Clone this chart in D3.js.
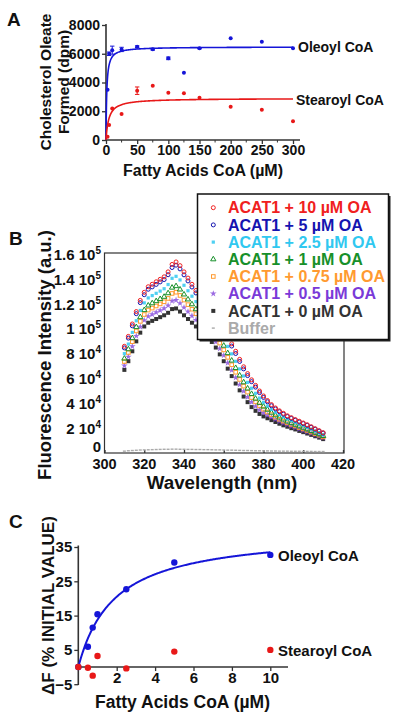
<!DOCTYPE html>
<html><head><meta charset="utf-8">
<script src="https://cdn.jsdelivr.net/npm/d3@7"></script>
<style>
body{margin:0;background:#fff}
svg{display:block}
text{font-family:"Liberation Sans",Arial,Helvetica,sans-serif;font-weight:bold;fill:#111}
</style>
</head><body>
<svg id="c" width="400" height="719"></svg>
<script>
// ---------------- Panel A data ----------------
const aConc = [2.5, 5, 10, 25, 50, 75, 100, 125, 150, 200, 250, 300];
const aOleoyl = [3500, 6000, 6250, 6300, 6490, 6310, 5680, 4680, 6380, 7075, 6840, 6380];
const aOleoylErr = [0, 120, 280, 150, 60, 60, 90, 0, 40, 0, 0, 0];
const aStearoyl = [230, 1040, 2200, 1810, 3430, 3780, 3290, 3250, 2940, 2320, 2110, 1300];
const aStearoylErr = [0, 0, 0, 0, 260, 0, 0, 0, 0, 0, 0, 0];
const aOleoylFit = [6480, 1.2];     // Vmax, Km (Michaelis-Menten fit)
const aStearoylFit = [2900, 4.5];
const aYTicks = [0, 2000, 4000, 6000, 8000];
const aXTicks = [0, 50, 100, 150, 200, 250, 300];

// ---------------- Panel B data (x1000 a.u.) ----------------
const bWavelength = [310,312,314,316,318,320,322,324,326,328,330,332,334,336,338,340,342,344,346,348,350,352,354,356,358,360,362,364,366,368,370,372,374,376,378,380,382,384,386,388,390,392,394,396,398,400,402,404,406,408,410];
const bOA10 = [86,94,104,114,123,129.5,134,136,138,140,142,146,152,154,151,146,141,136,131,127,123,119,115,110.5,105.5,100,94,88,82,75.5,69.5,64,59,54.5,50,46,42.3,39,36.3,34,32,30,28.5,27,25.6,24.2,22.8,21.2,19.6,18,16.4];
const bOA5 = [84.7,92.6,102.5,112.3,121.2,127.6,132,133.9,135.9,137.9,139.8,143.7,149.5,151.4,148.4,143.6,138.7,133.8,129,125,121.1,117.2,113.2,108.7,103.7,98.2,92.2,86.2,80.2,73.8,67.8,62.4,57.5,53.1,48.7,44.8,41.3,38.1,35.5,33.3,31.3,29.4,27.9,26.4,25,23.7,22.3,20.7,19.2,17.6,16];
const bOA2_5 = [80.1,87.8,97.2,106.6,114.9,121,125,126.9,128.7,130.5,132.4,135.8,140.8,142.4,139.5,135.2,130.8,126.4,122,118.3,114.6,110.9,107.1,102.6,97.4,91.9,85.9,79.9,73.9,67.8,62.1,56.9,52.2,48.1,44.3,40.9,37.9,35.1,32.8,30.8,29,27.3,25.9,24.5,23.2,21.9,20.6,19.2,17.7,16.3,14.8];
const bOA1 = [76.1,83.6,92.6,101.5,109.5,115.2,118.9,120.7,122.4,124.1,125.9,128.8,133.3,134.5,131.8,127.8,123.8,119.9,115.9,112.4,109,105.5,101.7,97.2,92,86.5,80.5,74.5,68.5,62.5,57,52,47.6,43.8,40.4,37.4,34.9,32.5,30.4,28.6,27,25.4,24.1,22.8,21.5,20.4,19.1,17.8,16.4,15.1,13.7];
const bOA0_75 = [73.7,81,89.7,98.4,106.1,111.6,115.2,116.8,118.5,120.2,121.9,124.6,128.6,129.6,127,123.3,119.6,115.9,112.2,108.8,105.5,102.1,98.4,93.9,88.6,83.1,77.1,71.1,65.1,59.3,53.9,49.1,44.7,41.2,38,35.3,33,30.9,29,27.2,25.7,24.3,23,21.8,20.5,19.4,18.2,16.9,15.6,14.4,13];
const bOA0_5 = [70.4,77.6,86,94.3,101.7,107,110.2,111.8,113.4,115,116.6,118.9,122.5,123.3,120.7,117.3,113.9,110.6,107.2,104,100.9,97.7,94.1,89.6,84.2,78.7,72.7,66.7,60.7,55,49.8,45.1,41,37.7,34.8,32.5,30.6,28.8,27,25.5,24,22.8,21.5,20.4,19.2,18.1,17,15.8,14.6,13.4,12.1];
const bOA0 = [67,74,82,90,97,102,105,106.5,108,109.5,111,113,116,116.5,114,111,108,105,102,99,96,93,89.5,85,79.5,74,68,62,56,50.5,45.5,41,37,34,31.5,29.5,28,26.5,25,23.6,22.3,21.2,20,19,17.8,16.8,15.7,14.6,13.5,12.4,11.2];
const bBuffer = [1.5,1.8,2,2.2,2.4,2.5,2.6,2.7,2.8,2.9,3,3,3.1,3.1,3,3,2.9,2.9,2.8,2.8,2.7,2.7,2.6,2.5,2.5,2.4,2.3,2.3,2.2,2.1,2,2,1.9,1.8,1.8,1.7,1.7,1.6,1.6,1.5,1.5,1.5,1.4,1.4,1.4,1.3,1.3,1.3,1.2,1.2,1.2];
const bLegend = ["ACAT1 + 10 \u00b5M OA","ACAT1 + 5 \u00b5M OA","ACAT1 + 2.5 \u00b5M OA","ACAT1 + 1 \u00b5M OA","ACAT1 + 0.75 \u00b5M OA","ACAT1 + 0.5 \u00b5M OA","ACAT1 + 0 \u00b5M OA","Buffer"];
const bYTicks = [0, 20, 40, 60, 80, 100, 120, 140, 160];
const bYTickMant = ["0","2 10","4 10","6 10","8 10","1 10","1.2 10","1.4 10","1.6 10"];
const bYTickExp = ["","4","4","4","4","5","5","5","5"];
const bXTicks = [300, 320, 340, 360, 380, 400, 420];

// ---------------- Panel C data ----------------
const cConc = [0, 0.5, 0.75, 1, 2.5, 5, 10];
const cOleoyl = [0, 5.9, 11.5, 15.4, 22.7, 30.5, 32.7];
const cStearoyl = [0, -0.2, -2.5, 3.2, -0.4, 4.5, 5];
const cOleoylFit = [39.8, 1.885];
const cYTicks = [-5, 5, 15, 25, 35];
const cXTicks = [2, 4, 6, 8, 10];

// ---------------- drawing ----------------
const svg = d3.select("#c");
svg.append("rect").attr("width", 400).attr("height", 719).attr("fill", "#fff");
const AX = "#333";
const BLUE = "#1515d8", RED = "#e81818";

function label(g, x, y, s, size, anchor = "start", rot = false) {
  const t = g.append("text").attr("font-size", size).attr("text-anchor", anchor);
  if (rot) t.attr("transform", `translate(${x},${y}) rotate(-90)`).attr("dy", "0.35em");
  else t.attr("x", x).attr("y", y);
  t.text(s);
  return t;
}
function styleAxis(sel, fs) {
  sel.select(".domain").remove();
  sel.selectAll(".tick line").attr("stroke", AX).attr("stroke-width", 1.3);
  sel.selectAll(".tick text").attr("font-size", fs).attr("fill", "#111")
     .style("font-family", '"Liberation Sans",Arial,sans-serif').style("font-weight", "bold");
}
function mm(p, x) { return p[0] * x / (p[1] + x); }

// ===== Panel A =====
const gA = svg.append("g");
const xA = d3.scaleLinear().domain([0, 300]).range([106, 293]);
const yA = d3.scaleLinear().domain([0, 8000]).range([140, 25]);
gA.append("g").attr("transform", "translate(106,0)")
  .call(d3.axisLeft(yA).tickValues(aYTicks).tickSize(4).tickPadding(2).tickFormat(d3.format("d")))
  .call(s => styleAxis(s, 14));
gA.append("g").attr("transform", "translate(0,140)")
  .call(d3.axisBottom(xA).tickValues(aXTicks).tickSize(4).tickPadding(1))
  .call(s => styleAxis(s, 14));
gA.append("g").selectAll("line").data(d3.range(25, 300, 50)).join("line")
  .attr("x1", d => xA(d)).attr("x2", d => xA(d)).attr("y1", 140).attr("y2", 142.5)
  .attr("stroke", AX).attr("stroke-width", 1);
gA.append("line").attr("x1", 106).attr("x2", 106).attr("y1", 141).attr("y2", 24).attr("stroke", AX).attr("stroke-width", 1.6);
gA.append("line").attr("x1", 105).attr("x2", 300).attr("y1", 140).attr("y2", 140).attr("stroke", AX).attr("stroke-width", 1.6);

const fitXs = d3.range(0, 5, 0.05).concat(d3.range(5, 300.5, 1));
const lineA = d3.line().x(d => xA(d[0])).y(d => yA(d[1]));
gA.append("path").attr("d", lineA(fitXs.map(x => [x, mm(aOleoylFit, x)])))
  .attr("fill", "none").attr("stroke", BLUE).attr("stroke-width", 1.6);
gA.append("path").attr("d", lineA(fitXs.map(x => [x, mm(aStearoylFit, x)])))
  .attr("fill", "none").attr("stroke", RED).attr("stroke-width", 1.6);

function pointsA(vals, errs, col) {
  const g = gA.append("g");
  aConc.forEach((c, i) => {
    const e = errs[i];
    if (e > 0) {
      const x = xA(c);
      g.append("line").attr("x1", x).attr("x2", x).attr("y1", yA(vals[i] - e)).attr("y2", yA(vals[i] + e)).attr("stroke", col).attr("stroke-width", 1);
      [vals[i] - e, vals[i] + e].forEach(v => g.append("line").attr("x1", x - 2.2).attr("x2", x + 2.2).attr("y1", yA(v)).attr("y2", yA(v)).attr("stroke", col).attr("stroke-width", 1));
    }
  });
  g.selectAll("circle").data(aConc).join("circle")
    .attr("cx", d => xA(d)).attr("cy", (d, i) => yA(vals[i])).attr("r", 2).attr("fill", col);
}
pointsA(aOleoyl, aOleoylErr, BLUE);
pointsA(aStearoyl, aStearoylErr, RED);

label(gA, 7, 26, "A", 19);
label(gA, 46, 82, "Cholesterol Oleate", 15.5, "middle", true);
label(gA, 64, 82, "Formed (dpm)", 15.5, "middle", true);
label(gA, 203, 176, "Fatty Acids CoA (\u00b5M)", 16, "middle");
label(gA, 298, 52, "Oleoyl CoA", 14);
label(gA, 296, 105, "Stearoyl CoA", 14);

// ===== Panel B =====
const gB = svg.append("g");
const xB = d3.scaleLinear().domain([300, 420]).range([104.5, 343]);
const yB = d3.scaleLinear().domain([0, 160]).range([453, 254.5]);
gB.append("rect").attr("x", 104.5).attr("y", 253).attr("width", 239.5).attr("height", 200)
  .attr("fill", "none").attr("stroke", AX).attr("stroke-width", 1.2);
gB.append("g").attr("transform", "translate(0,453)")
  .call(d3.axisTop(xB).tickValues(bXTicks).tickSize(3).tickFormat(""))
  .call(s => styleAxis(s, 15));
gB.selectAll("text.xt").data(bXTicks).join("text").attr("class", "xt")
  .attr("x", d => xB(d)).attr("y", 469).attr("text-anchor", "middle").attr("font-size", 14.5).text(d => d);
const yt = gB.selectAll("text.yt").data(bYTicks).join("text").attr("class", "yt")
  .attr("x", 101).attr("y", d => yB(d) + (d === 0 ? -1.5 : 5.5)).attr("text-anchor", "end").attr("font-size", 15);
yt.append("tspan").text((d, i) => bYTickMant[i]);
yt.append("tspan").attr("dy", -6).attr("font-size", 10).text((d, i) => bYTickExp[i]);

const series = [
  {v: bBuffer, col: "#aaaaaa", sym: "buf"},
  {v: bOA0, col: "#333333", sym: "sqf"},
  {v: bOA0_5, col: "#7a3ad8", sym: "star"},
  {v: bOA0_75, col: "#ff9a30", sym: "sqo"},
  {v: bOA1, col: "#17902a", sym: "tri"},
  {v: bOA2_5, col: "#30c8f0", sym: "cyan"},
  {v: bOA5, col: "#1414b0", sym: "circ"},
  {v: bOA10, col: "#f02020", sym: "circ"}
];
function drawSym(g, x, y, s, col) {
  if (s === "circ") g.append("circle").attr("cx", x).attr("cy", y).attr("r", 2).attr("fill", "none").attr("stroke", col).attr("stroke-width", 1);
  else if (s === "sqf") g.append("rect").attr("x", x - 2).attr("y", y - 2).attr("width", 4).attr("height", 4).attr("fill", col);
  else if (s === "sqo") g.append("rect").attr("x", x - 1.8).attr("y", y - 1.8).attr("width", 3.6).attr("height", 3.6).attr("fill", "none").attr("stroke", col).attr("stroke-width", 1);
  else if (s === "tri") g.append("path").attr("transform", `translate(${x},${y})`).attr("d", d3.symbol(d3.symbolTriangle, 12)()).attr("fill", "none").attr("stroke", col).attr("stroke-width", 1);
  else if (s === "star") g.append("path").attr("transform", `translate(${x},${y})`).attr("d", d3.symbol(d3.symbolStar, 14)()).attr("fill", col).attr("opacity", 0.75);
  else if (s === "cyan") g.append("rect").attr("x", x - 1.6).attr("y", y - 1.6).attr("width", 3.2).attr("height", 3.2).attr("fill", col).attr("opacity", 0.85);
  else if (s === "buf") g.append("rect").attr("x", x - 1.5).attr("y", y - 0.7).attr("width", 3).attr("height", 1.4).attr("fill", col);
}
series.forEach(se => {
  const g = gB.append("g");
  bWavelength.forEach((w, i) => drawSym(g, xB(w), yB(se.v[i]), se.sym, se.col));
});

// legend box
const lg = gB.append("g");
lg.append("rect").attr("x", 199.5).attr("y", 196).attr("width", 191).attr("height", 145.5).attr("fill", "#222");
lg.append("rect").attr("x", 197.5).attr("y", 194).attr("width", 191).attr("height", 145.5).attr("fill", "#fff").attr("stroke", "#111").attr("stroke-width", 1.5);
const legCols = ["#f02020", "#1414b0", "#30c8f0", "#17902a", "#ff9a30", "#7a3ad8", "#333333", "#aaaaaa"];
const legSyms = ["circ", "circ", "cyan", "tri", "sqo", "star", "sqf", "buf"];
bLegend.forEach((s, i) => {
  const y = 207.7 + i * 17.2;
  drawSym(lg, 213.3, y, legSyms[i], legCols[i]);
  lg.append("text").attr("x", 228).attr("y", y + 5.6).attr("font-size", 16).attr("fill", legCols[i]).style("fill", legCols[i]).text(s);
});

label(gB, 9, 245, "B", 19);
label(gB, 45, 355, "Fluorescence Intensity (a.u.)", 18.5, "middle", true);
label(gB, 222, 488.5, "Wavelength (nm)", 18.8, "middle");

// ===== Panel C =====
const gC = svg.append("g");
const xC = d3.scaleLinear().domain([0, 10]).range([78.3, 270.3]);
const yC = d3.scaleLinear().domain([-5, 35]).range([684.2, 547]);
gC.append("g").attr("transform", "translate(78.3,0)")
  .call(d3.axisLeft(yC).tickValues(cYTicks).tickSize(4).tickPadding(2))
  .call(s => styleAxis(s, 15));
gC.append("g").attr("class", "cx").attr("transform", `translate(0,${yC(0)})`)
  .call(d3.axisBottom(xC).tickValues(cXTicks).tickSize(4).tickPadding(1))
  .call(s => styleAxis(s, 15));
gC.select(".cx").selectAll(".tick text").attr("y", 683 - yC(0)).attr("dy", 0);
gC.append("line").attr("x1", 78.3).attr("x2", 78.3).attr("y1", 685).attr("y2", 545.5).attr("stroke", AX).attr("stroke-width", 1.6);
gC.append("line").attr("x1", 77.5).attr("x2", 288).attr("y1", yC(0)).attr("y2", yC(0)).attr("stroke", AX).attr("stroke-width", 1.6);

const lineC = d3.line().x(d => xC(d[0])).y(d => yC(d[1]));
gC.append("path").attr("d", lineC(d3.range(0, 10.001, 0.05).map(x => [x, mm(cOleoylFit, x)])))
  .attr("fill", "none").attr("stroke", BLUE).attr("stroke-width", 2);
gC.append("g").selectAll("circle").data(cConc).join("circle")
  .attr("cx", d => xC(d)).attr("cy", (d, i) => yC(cOleoyl[i])).attr("r", 3.2).attr("fill", BLUE);
gC.append("g").selectAll("circle").data(cConc).join("circle")
  .attr("cx", d => xC(d)).attr("cy", (d, i) => yC(cStearoyl[i])).attr("r", 3.2).attr("fill", RED);

label(gC, 9, 528, "C", 19);
label(gC, 48, 605.5, "\u0394F (% INITIAL VALUE)", 17, "middle", true);
label(gC, 182.5, 708, "Fatty Acids CoA (\u00b5M)", 17.5, "middle");
label(gC, 278, 560.5, "Oleoyl CoA", 15);
label(gC, 278, 655.5, "Stearoyl CoA", 15);
</script>
</body></html>
